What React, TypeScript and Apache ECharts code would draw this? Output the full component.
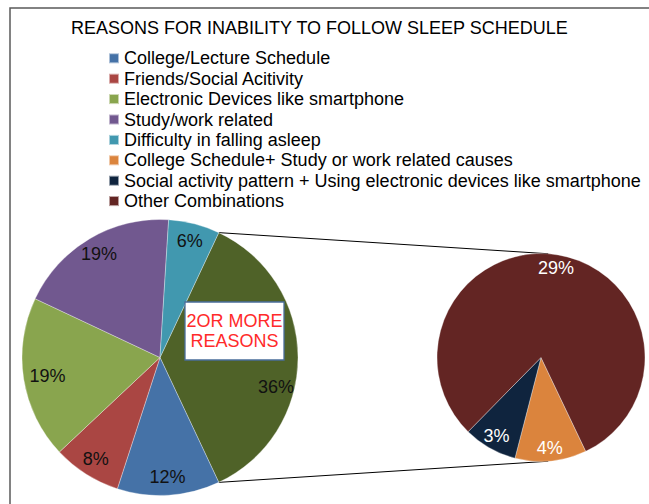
import React, { useEffect, useRef } from 'react';
import * as echarts from 'echarts';

const titleText = 'REASONS FOR INABILITY TO FOLLOW SLEEP SCHEDULE';
const mainCategories = [
  '2OR MORE REASONS',
  'College/Lecture Schedule',
  'Friends/Social Acitivity',
  'Electronic Devices like smartphone',
  'Study/work related',
  'Difficulty in falling asleep',
];
const mainValues = [36, 12, 8, 19, 19, 6];
const mainColors = ['#4F6228', '#4572A7', '#AA4643', '#89A54E', '#71588F', '#4198AF'];
const subCategories = [
  'College Schedule+ Study or work related causes',
  'Social activity pattern + Using electronic devices like smartphone',
  'Other Combinations',
];
const subValues = [4, 3, 29];
const subColors = ['#DB843D', '#0F243E', '#632523'];
const boxText = '2OR MORE\nREASONS';

const FONT = 'Arial, "Liberation Sans", sans-serif';

export default function App() {
  const ref = useRef<HTMLDivElement>(null);
  useEffect(() => {
    if (!ref.current) return;
    const chart = echarts.init(ref.current, undefined, { renderer: 'svg' });

    const C1 = [160, 357.5];
    const R1 = 138;
    const C2 = [541, 357.5];
    const R2 = 104;
    const total = mainValues.reduce((a, b) => a + b, 0);
    const start1 = ((360 * mainValues[0]) / total) / 2;
    const rad = (d: number) => (d * Math.PI) / 180;
    const p1Top = [C1[0] + R1 * Math.cos(rad(start1)), C1[1] - R1 * Math.sin(rad(start1))];
    const p1Bot = [C1[0] + R1 * Math.cos(rad(start1)), C1[1] + R1 * Math.sin(rad(start1))];
    const p2Top = [C2[0] + R2 * Math.cos(rad(86)), C2[1] - R2 * Math.sin(rad(86))];
    const p2Bot = [C2[0] + R2 * Math.cos(rad(86)), C2[1] + R2 * Math.sin(rad(86))];

    const mainData = mainCategories.map((n, i) => ({
      name: n,
      value: mainValues[i],
      itemStyle: { color: mainColors[i] },
    }));
    const subData = subCategories.map((n, i) => ({
      name: n,
      value: subValues[i],
      itemStyle: { color: subColors[i] },
    }));
    const legendData = [
      ...mainCategories.slice(1).map((n, i) => ({ name: n, itemStyle: { color: mainColors[i + 1] } })),
      ...subCategories.map((n, i) => ({ name: n, itemStyle: { color: subColors[i] } })),
    ];

    const sliceBorder = { borderColor: 'rgba(255,255,255,0.55)', borderWidth: 0.6 };

    chart.setOption({
      animation: false,
      backgroundColor: '#ffffff',
      title: {
        text: titleText,
        left: 71,
        top: 17.5,
        padding: 0,
        textStyle: { fontFamily: FONT, fontSize: 18, fontWeight: 'normal', color: '#000', lineHeight: 20 },
      },
      legend: {
        orient: 'vertical',
        left: 108,
        top: 48.3,
        padding: 0,
        itemWidth: 10,
        itemHeight: 10,
        itemGap: 0.4,
        icon: 'rect',
        selectedMode: false,
        data: legendData,
        textStyle: { fontFamily: FONT, fontSize: 18, color: '#000', lineHeight: 20 },
      },
      graphic: [
        {
          type: 'rect',
          shape: { x: 10, y: 8, width: 700, height: 600 },
          style: { fill: 'none', stroke: '#595959', lineWidth: 1.5 },
          silent: true,
        },
        {
          type: 'line',
          shape: { x1: p1Top[0], y1: p1Top[1], x2: p2Top[0], y2: p2Top[1] },
          style: { stroke: '#000', lineWidth: 1 },
          silent: true,
        },
        {
          type: 'line',
          shape: { x1: p1Bot[0], y1: p1Bot[1], x2: p2Bot[0], y2: p2Bot[1] },
          style: { stroke: '#000', lineWidth: 1 },
          silent: true,
        },
        {
          type: 'rect',
          z: 100,
          shape: { x: 185, y: 302, width: 99, height: 58 },
          style: { fill: '#fff', stroke: '#4A6E9A', lineWidth: 1.3 },
          silent: true,
        },
        {
          type: 'text',
          z: 101,
          x: 234.5,
          y: 331,
          style: {
            text: boxText,
            fill: '#FF2A2A',
            font: `18px ${FONT}`,
            lineHeight: 20,
            align: 'center',
            verticalAlign: 'middle',
          },
          silent: true,
        },
      ],
      series: [
        {
          type: 'pie',
          silent: true,
          center: C1,
          radius: R1,
          startAngle: start1,
          clockwise: true,
          label: { show: false },
          labelLine: { show: false },
          itemStyle: sliceBorder,
          emphasis: { disabled: true },
          data: mainData,
        },
        {
          type: 'pie',
          silent: true,
          center: C2,
          radius: R2,
          startAngle: -64.5,
          clockwise: true,
          label: { show: false },
          labelLine: { show: false },
          itemStyle: sliceBorder,
          emphasis: { disabled: true },
          data: subData,
        },
        {
          type: 'pie',
          silent: true,
          center: C1,
          radius: [96, R1],
          startAngle: start1,
          clockwise: true,
          avoidLabelOverlap: false,
          itemStyle: { color: 'rgba(0,0,0,0)', borderWidth: 0 },
          label: {
            show: true,
            position: 'inside',
            formatter: (p: any) => `${p.value}%`,
            fontFamily: FONT,
            fontSize: 18,
            color: '#111',
          },
          labelLine: { show: false },
          labelLayout: (p: any) => {
            if (p.dataIndex === 0) return { dx: -4, dy: 29.5 };
            if (p.dataIndex === 3) return { dx: 6 };
            return {};
          },
          emphasis: { disabled: true },
          data: mainValues.map((v, i) => ({ name: mainCategories[i], value: v })),
        },
        {
          type: 'pie',
          silent: true,
          center: C2,
          radius: [71, R2],
          startAngle: -64.5,
          clockwise: true,
          avoidLabelOverlap: false,
          itemStyle: { color: 'rgba(0,0,0,0)', borderWidth: 0 },
          label: {
            show: true,
            position: 'inside',
            formatter: (p: any) => `${p.value}%`,
            fontFamily: FONT,
            fontSize: 18,
            color: '#fff',
          },
          labelLine: { show: false },
          emphasis: { disabled: true },
          data: subValues.map((v, i) => ({ name: subCategories[i], value: v })),
        },
      ],
    });
    return () => chart.dispose();
  }, []);
  return (
    <div
      ref={ref}
      style={{ position: 'fixed', left: 0, top: 0, width: 649, height: 504, background: '#fff' }}
    />
  );
}
